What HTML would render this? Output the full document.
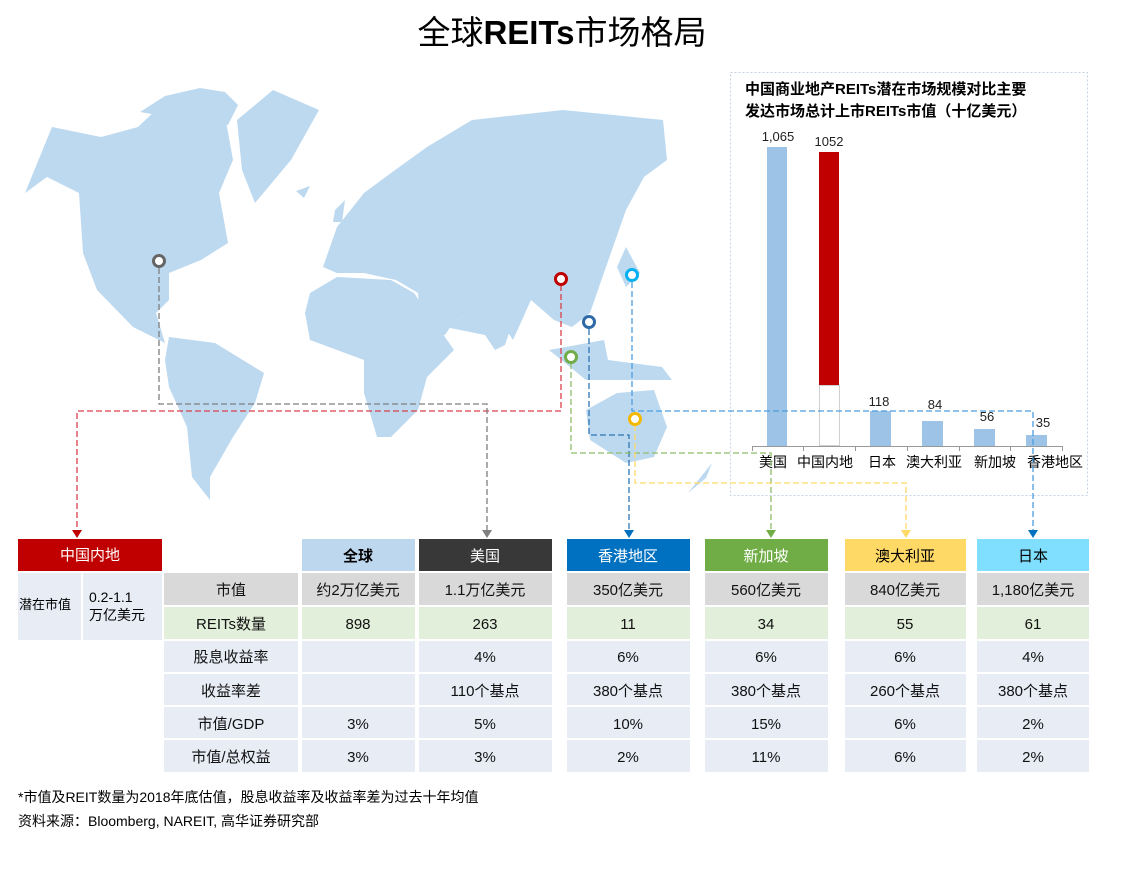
<!DOCTYPE html>
<html><head><meta charset="utf-8"><style>
body{margin:0;background:#fff;}
svg text{font-family:"Liberation Sans","Noto Sans CJK SC",sans-serif;}
</style></head><body>
<svg width="1128" height="867" viewBox="0 0 1128 867" xmlns="http://www.w3.org/2000/svg">
<text x="562" y="44" text-anchor="middle" font-size="33" fill="#000">全球<tspan font-weight="bold">REITs</tspan>市场格局</text>

<!-- map -->
<g fill="#bdd9f0" stroke="none">
<polygon points="25,193 52,127 101,137 138,127 156,110 224,110 233,160 219,193 228,243 201,260 169,273 169,300 156,313 165,343 133,327 97,290 83,253 79,193 47,177"/>
<polygon points="140,112 165,96 200,88 225,92 238,105 228,125 200,122 175,118"/>
<polygon points="237,120 273,90 319,110 291,160 255,203 242,170"/>
<polygon points="169,337 215,343 264,373 255,403 233,437 210,477 210,500 192,477 187,427 169,387 165,360"/>
<polygon points="310,293 337,277 391,280 414,293 445,337 454,350 427,377 418,410 391,437 377,437 364,393 364,360 337,350 310,340 305,313"/>
<polygon points="323,267 337,227 364,193 391,173 427,147 472,120 563,110 663,120 667,160 644,177 626,210 613,247 599,287 590,313 572,327 554,320 531,300 513,340 495,313 468,313 445,327 418,293 396,280 364,273 337,273"/>
<polygon points="445,327 468,313 495,313 510,330 505,345 495,350 485,335"/>
<polygon points="418,293 440,300 455,320 445,335 430,335 420,315"/>
<polygon points="626,247 640,273 626,287 617,267"/>
<polygon points="549,350 586,380 672,380 662,367 608,360 604,340"/>
<polygon points="586,410 617,393 654,390 667,427 654,457 626,463 590,440"/>
<polygon points="688,493 712,463 706,478"/>
<polygon points="296,191 310,186 304,198"/>
<polygon points="335,210 345,200 342,222 333,222"/>
</g>

<!-- inset chart -->
<rect x="730.5" y="72.5" width="357" height="423" fill="none" stroke="#c5d3e3" stroke-dasharray="2,2"/>
<text x="745" y="94" font-size="15" font-weight="bold" fill="#000">中国商业地产REITs潜在市场规模对比主要</text>
<text x="745" y="116" font-size="15" font-weight="bold" fill="#000">发达市场总计上市REITs市值（十亿美元）</text>
<rect x="767" y="147" width="20" height="299" fill="#9dc3e6"/>
<rect x="819" y="152" width="20" height="233" fill="#c00000"/>
<rect x="819.5" y="385.5" width="20" height="60" fill="#fff" stroke="#d0d0d0"/>
<rect x="870" y="411" width="21" height="35" fill="#9dc3e6"/>
<rect x="922" y="421" width="21" height="25" fill="#9dc3e6"/>
<rect x="974" y="429" width="21" height="17" fill="#9dc3e6"/>
<rect x="1026" y="435" width="21" height="11" fill="#9dc3e6"/>
<line x1="752" y1="446.5" x2="1062" y2="446.5" stroke="#999"/>
<g stroke="#999"><line x1="752.5" y1="446" x2="752.5" y2="451"/><line x1="803.5" y1="446" x2="803.5" y2="451"/><line x1="855.5" y1="446" x2="855.5" y2="451"/><line x1="907.5" y1="446" x2="907.5" y2="451"/><line x1="959.5" y1="446" x2="959.5" y2="451"/><line x1="1010.5" y1="446" x2="1010.5" y2="451"/><line x1="1062.5" y1="446" x2="1062.5" y2="451"/></g>
<g font-size="13" fill="#222" text-anchor="middle">
<text x="778" y="141">1,065</text><text x="829" y="146">1052</text><text x="879" y="406">118</text><text x="935" y="409">84</text><text x="987" y="421">56</text><text x="1043" y="427">35</text>
</g>
<g font-size="14" fill="#000" text-anchor="middle">
<text x="773" y="467">美国</text><text x="825" y="467">中国内地</text><text x="882" y="467">日本</text><text x="934" y="467">澳大利亚</text><text x="995" y="467">新加坡</text><text x="1055" y="467">香港地区</text>
</g>

<!-- dashed lines -->
<g fill="none" stroke-width="1.3" stroke-dasharray="6,3">
<polyline points="561,285 561,411 77,411 77,530" stroke="#d9404a"/>
<polyline points="159,268 159,404 487,404 487,530" stroke="#7f7f7f"/>
<polyline points="589,329 589,435 629,435 629,530" stroke="#2e75b6"/>
<polyline points="632,282 632,411 1033,411 1033,530" stroke="#4a9ee0"/>
<polyline points="571,363 571,453 771,453 771,530" stroke="#8fbe6a"/>
<polyline points="635,425 635,483 906,483 906,530" stroke="#ffd966"/>
</g>
<g>
<polygon points="72,530 82,530 77,538" fill="#c00000"/>
<polygon points="482,530 492,530 487,538" fill="#7f7f7f"/>
<polygon points="624,530 634,530 629,538" fill="#0070c0"/>
<polygon points="766,530 776,530 771,538" fill="#70ad47"/>
<polygon points="901,530 911,530 906,538" fill="#ffd966"/>
<polygon points="1028,530 1038,530 1033,538" fill="#0070c0"/>
</g>
<!-- markers -->
<g fill="#fff" stroke-width="3">
<circle cx="159" cy="261" r="5.5" stroke="#666"/>
<circle cx="561" cy="279" r="5.5" stroke="#c00000"/>
<circle cx="589" cy="322" r="5.5" stroke="#2e6aa8"/>
<circle cx="571" cy="357" r="5.5" stroke="#70ad47"/>
<circle cx="632" cy="275" r="5.5" stroke="#00b0f0"/>
<circle cx="635" cy="419" r="5.5" stroke="#f4b800"/>
</g>

<!-- table -->
<rect x="18" y="539" width="144" height="32" fill="#c00000"/>
<text x="90" y="560" font-size="15" fill="#fff" text-anchor="middle">中国内地</text>
<rect x="18" y="573" width="63" height="67" fill="#e7ecf5"/>
<rect x="83" y="573" width="79" height="67" fill="#e7ecf5"/>
<text x="19" y="609" font-size="13" fill="#000">潜在市值</text>
<text x="89" y="602" font-size="14" fill="#000">0.2-1.1</text>
<text x="89" y="620" font-size="14" fill="#000">万亿美元</text>

<g>
<rect x="302" y="539" width="113" height="32" fill="#bdd7ee"/>
<rect x="419" y="539" width="133" height="32" fill="#383838"/>
<rect x="567" y="539" width="123" height="32" fill="#0070c0"/>
<rect x="705" y="539" width="123" height="32" fill="#70ad47"/>
<rect x="845" y="539" width="121" height="32" fill="#ffd966"/>
<rect x="977" y="539" width="112" height="32" fill="#80dfff"/>
</g>
<g font-size="15" text-anchor="middle">
<text x="358" y="561" font-weight="bold" fill="#000">全球</text>
<text x="485" y="561" fill="#fff">美国</text>
<text x="628" y="561" fill="#fff">香港地区</text>
<text x="766" y="561" fill="#fff">新加坡</text>
<text x="905" y="561" fill="#000">澳大利亚</text>
<text x="1033" y="561" fill="#000">日本</text>
</g>

<g>
<g fill="#d9d9d9">
<rect x="164" y="573" width="134" height="32"/><rect x="302" y="573" width="113" height="32"/><rect x="419" y="573" width="133" height="32"/><rect x="567" y="573" width="123" height="32"/><rect x="705" y="573" width="123" height="32"/><rect x="845" y="573" width="121" height="32"/><rect x="977" y="573" width="112" height="32"/>
</g>
<g fill="#e2efda">
<rect x="164" y="607" width="134" height="32"/><rect x="302" y="607" width="113" height="32"/><rect x="419" y="607" width="133" height="32"/><rect x="567" y="607" width="123" height="32"/><rect x="705" y="607" width="123" height="32"/><rect x="845" y="607" width="121" height="32"/><rect x="977" y="607" width="112" height="32"/>
</g>
<g fill="#e7ecf5">
<rect x="164" y="641" width="134" height="31"/><rect x="302" y="641" width="113" height="31"/><rect x="419" y="641" width="133" height="31"/><rect x="567" y="641" width="123" height="31"/><rect x="705" y="641" width="123" height="31"/><rect x="845" y="641" width="121" height="31"/><rect x="977" y="641" width="112" height="31"/>
<rect x="164" y="674" width="134" height="31"/><rect x="302" y="674" width="113" height="31"/><rect x="419" y="674" width="133" height="31"/><rect x="567" y="674" width="123" height="31"/><rect x="705" y="674" width="123" height="31"/><rect x="845" y="674" width="121" height="31"/><rect x="977" y="674" width="112" height="31"/>
<rect x="164" y="707" width="134" height="31"/><rect x="302" y="707" width="113" height="31"/><rect x="419" y="707" width="133" height="31"/><rect x="567" y="707" width="123" height="31"/><rect x="705" y="707" width="123" height="31"/><rect x="845" y="707" width="121" height="31"/><rect x="977" y="707" width="112" height="31"/>
<rect x="164" y="740" width="134" height="32"/><rect x="302" y="740" width="113" height="32"/><rect x="419" y="740" width="133" height="32"/><rect x="567" y="740" width="123" height="32"/><rect x="705" y="740" width="123" height="32"/><rect x="845" y="740" width="121" height="32"/><rect x="977" y="740" width="112" height="32"/>
</g>
<g font-size="15" fill="#111" text-anchor="middle">
<text x="231" y="595">市值</text><text x="358" y="595">约2万亿美元</text><text x="485" y="595">1.1万亿美元</text><text x="628" y="595">350亿美元</text><text x="766" y="595">560亿美元</text><text x="905" y="595">840亿美元</text><text x="1033" y="595">1,180亿美元</text>
<text x="231" y="629">REITs数量</text><text x="358" y="629">898</text><text x="485" y="629">263</text><text x="628" y="629">11</text><text x="766" y="629">34</text><text x="905" y="629">55</text><text x="1033" y="629">61</text>
<text x="231" y="662">股息收益率</text><text x="485" y="662">4%</text><text x="628" y="662">6%</text><text x="766" y="662">6%</text><text x="905" y="662">6%</text><text x="1033" y="662">4%</text>
<text x="231" y="696">收益率差</text><text x="485" y="696">110个基点</text><text x="628" y="696">380个基点</text><text x="766" y="696">380个基点</text><text x="905" y="696">260个基点</text><text x="1033" y="696">380个基点</text>
<text x="231" y="729">市值/GDP</text><text x="358" y="729">3%</text><text x="485" y="729">5%</text><text x="628" y="729">10%</text><text x="766" y="729">15%</text><text x="905" y="729">6%</text><text x="1033" y="729">2%</text>
<text x="231" y="762">市值/总权益</text><text x="358" y="762">3%</text><text x="485" y="762">3%</text><text x="628" y="762">2%</text><text x="766" y="762">11%</text><text x="905" y="762">6%</text><text x="1033" y="762">2%</text>
</g>
</g>

<text x="18" y="802" font-size="14" fill="#000">*市值及REIT数量为2018年底估值，股息收益率及收益率差为过去十年均值</text>
<text x="18" y="826" font-size="14" fill="#000">资料来源：Bloomberg, NAREIT, 高华证券研究部</text>
</svg>
</body></html>
